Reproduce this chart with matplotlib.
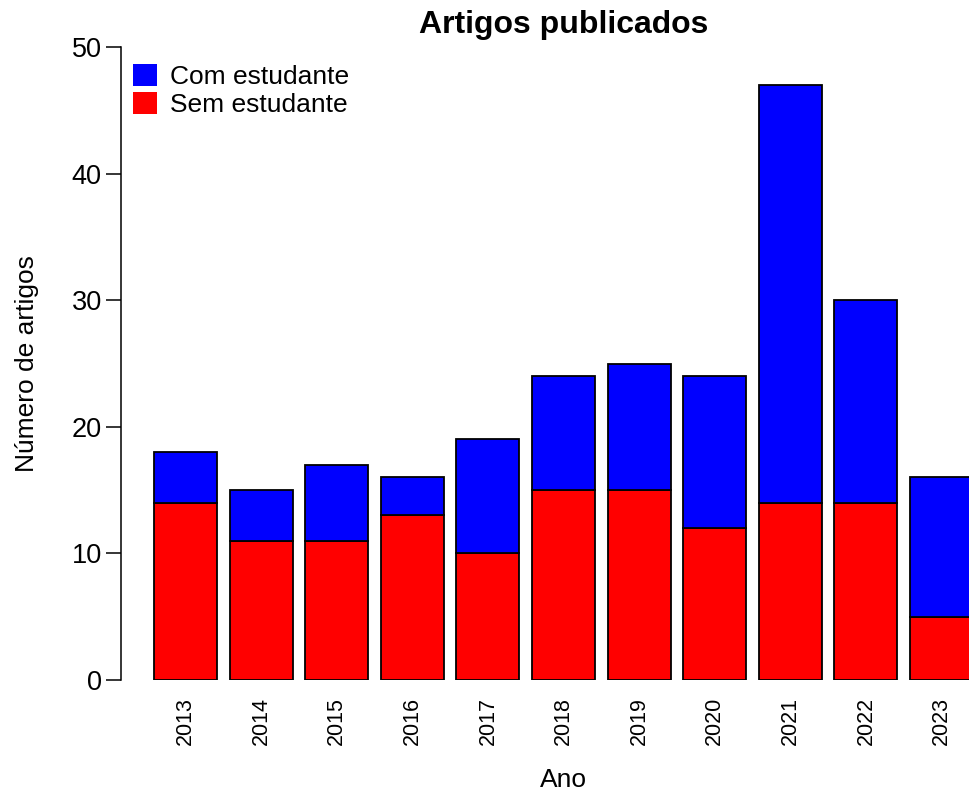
import matplotlib
matplotlib.use("Agg")
import matplotlib.pyplot as plt
from matplotlib.patches import Patch

plt.rcParams['font.family'] = ['Liberation Sans', 'DejaVu Sans']

anos = ['2013', '2014', '2015', '2016', '2017', '2018', '2019', '2020', '2021', '2022', '2023']
sem_estudante = [14, 11, 11, 13, 10, 15, 15, 12, 14, 14, 5]
com_estudante = [4, 4, 6, 3, 9, 9, 10, 12, 33, 16, 11]

W, H = 969, 790
fig = plt.figure(figsize=(W / 100, H / 100), dpi=100)
# axes extends past the right edge (as in the reference, last bar clipped)
left_px, right_px = 121.2, 1005.8
top_px, bottom_px = 21.7, 680.0
ax = fig.add_axes([left_px / W, 1 - bottom_px / H, (right_px - left_px) / W, (bottom_px - top_px) / H])

x = [0.7 + 1.2 * i for i in range(len(anos))]
ax.bar(x, sem_estudante, width=1.0, color='#FF0000', edgecolor='black', linewidth=1.3)
ax.bar(x, com_estudante, width=1.0, bottom=sem_estudante, color='#0000FF', edgecolor='black', linewidth=1.3)

ax.set_xlim(-0.32, 13.72)
ax.set_ylim(0, 52)
for s in ['top', 'right', 'bottom']:
    ax.spines[s].set_visible(False)
ax.spines['left'].set_bounds(0, 50)
ax.spines['left'].set_linewidth(1.1)
ax.set_yticks([0, 10, 20, 30, 40, 50])
ax.tick_params(axis='y', length=11, width=1.1, pad=3, labelsize=19.5)
ax.set_xticks(x)
ax.set_xticklabels(anos, rotation=90, fontsize=15.5)
ax.tick_params(axis='x', length=0, pad=12)

ax.set_ylabel('Número de artigos', fontsize=19)
ax.yaxis.set_label_coords(-0.093, 0.481)
ax.set_xlabel('Ano', fontsize=19)
ax.xaxis.set_label_coords(0.5, -0.133)

ax.set_title('Artigos publicados', fontsize=23, fontweight='bold', y=0.983, pad=0, va='baseline')

handles = [Patch(facecolor='#0000FF', edgecolor='none', label='Com estudante'),
           Patch(facecolor='#FF0000', edgecolor='none', label='Sem estudante')]
ax.legend(handles=handles, loc='upper left', bbox_to_anchor=(0.0133, 0.936), frameon=False,
          fontsize=19, handlelength=0.91, handleheight=0.91, handletextpad=0.5,
          labelspacing=0.1, borderpad=0, borderaxespad=0)

fig.savefig('out.png', dpi=100)
